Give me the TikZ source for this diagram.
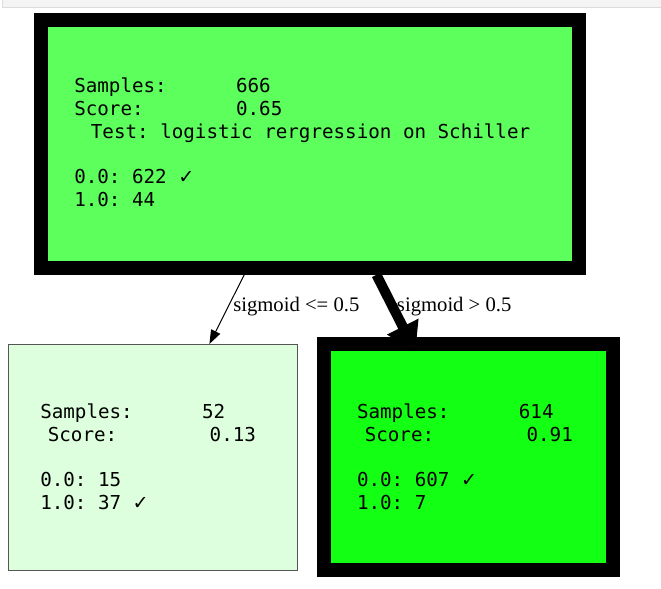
\documentclass[tikz,border=0pt]{standalone}
\usepackage{fontspec}
\setmainfont{Liberation Serif}
\setmonofont{DejaVu Sans Mono}
\newfontfamily\checkfont{DejaVu Sans}
\usetikzlibrary{arrows.meta}

\definecolor{rootgreen}{HTML}{5CFF5C}
\definecolor{lowgreen}{HTML}{DDFFDD}
\definecolor{highgreen}{HTML}{13FF13}
\definecolor{boxgray}{HTML}{555555}
\definecolor{stripfill}{HTML}{F4F4F4}
\definecolor{stripline}{HTML}{DCDCDC}

\newcommand{\chk}{{\checkfont ✓}}

\tikzset{
	leafbox/.style={rectangle, minimum width=216.75pt, minimum height=169.5pt},
	heavy/.style={draw=black, line width=10.5pt},
	light/.style={draw=boxgray, line width=0.75pt},
	stats/.style={font=\ttfamily\fontsize{14.4pt}{17.1pt}\selectfont, align=left, anchor=base west, inner sep=0pt},
	cond/.style={font=\fontsize{15.5pt}{18pt}\selectfont, anchor=base west, inner sep=0pt},
	thinedge/.style={-{Triangle[length=10.5pt,width=7.5pt]}, line width=0.75pt},
	thickedge/.style={-{Triangle[length=21pt,width=25pt]}, line width=7.5pt, shorten >=-12pt},
}

\begin{document}
\begin{tikzpicture}[x=0.75pt, y=-0.75pt]
	\useasboundingbox (0,0) rectangle (661,589);
	\fill[stripfill] (2,0) rectangle (661,7.3);
	\draw[stripline] (2,0) -- (2,7.3) -- (661,7.3);

	% boxes
	\node[rectangle, heavy, fill=rootgreen, minimum width=403.1pt, minimum height=186.1pt] (root) at (310.05,143.75) {};
	\node[leafbox, light, fill=lowgreen] (low) at (152.5,457.5) {};
	\node[leafbox, heavy, fill=highgreen] (high) at (468.8,457.3) {};

	% texts (anchored at the last line)
	\node[stats] (roottxt) at (74,206.7) {Samples:~~~~~~666\\Score:~~~~~~~~0.65\\\hspace*{12.5pt}Test: logistic rergression on Schiller\\[17.1pt]0.0: 622 \chk\\1.0: 44};
	\node[stats] (lowtxt) at (40,509.3) {Samples:~~~~~~52\\\hspace*{5.7pt}Score:~~~~~~~~0.13\\[17pt]0.0: 15\\1.0: 37 \chk};
	\node[stats] (hightxt) at (356.8,509.3) {Samples:~~~~~~614\\\hspace*{5.8pt}Score:~~~~~~~~0.91\\[17pt]0.0: 607 \chk\\1.0: 7};

	% edges
	\draw[thinedge] (root) -- (low);
	\draw[thickedge] (root) -- (high);
	\node[cond] (lowcond) at (233,311.7) {sigmoid <= 0.5};
	\node[cond] (highcond) at (396.7,311.7) {sigmoid > 0.5};
\end{tikzpicture}
\end{document}
